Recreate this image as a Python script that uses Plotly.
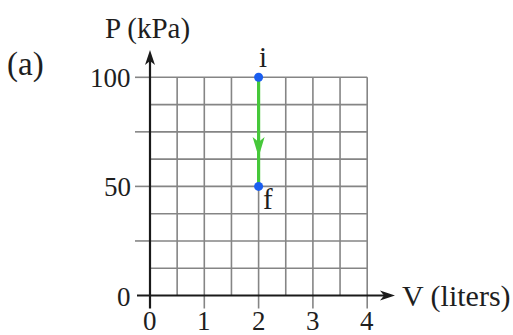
import plotly.graph_objects as go

# Tick positions and labels
V_ticks = [0, 1, 2, 3, 4]
V_tick_labels = ["0", "1", "2", "3", "4"]
P_ticks = [0, 25, 50, 75, 100]
P_tick_labels = ["0", "", "50", "", "100"]

# Grid lines (half-liter / 12.5 kPa squares)
V_grid = [0.5, 1.0, 1.5, 2.0, 2.5, 3.0, 3.5, 4.0]
P_grid = [12.5, 25.0, 37.5, 50.0, 62.5, 75.0, 87.5, 100.0]

# Isochoric process i -> f
V_states = [2, 2]
P_states = [100, 50]
state_names = ["i", "f"]

W, H = 513, 335
PX_PER_V = 54.3
PX_PER_P = 2.182
X0_PX = 150.0   # pixel column of V = 0
Y0_PX = 295.5   # pixel row of P = 0


def dv(px):
    return px / PX_PER_V


def dp(px):
    return px / PX_PER_P


FONT = "Liberation Serif, Times New Roman, serif"
TXT = "#1e1e1e"
GRID = "#858585"
AXIS = "#1a1a1a"
GREEN = "#46c83a"
BLUE = "#1a5ef0"

shapes = []

# grid
for v in V_grid:
    shapes.append(dict(type="line", xref="x", yref="y", x0=v, x1=v, y0=0, y1=P_grid[-1],
                       line=dict(color=GRID, width=1.6), layer="below"))
for p in P_grid:
    shapes.append(dict(type="line", xref="x", yref="y", x0=0, x1=V_grid[-1], y0=p, y1=p,
                       line=dict(color=GRID, width=1.6), layer="below"))

# tick marks
for p in P_ticks[1:]:
    shapes.append(dict(type="line", xref="x", yref="y", x0=-dv(15), x1=0, y0=p, y1=p,
                       line=dict(color=GRID, width=1.6), layer="below"))
for v in V_ticks[1:]:
    shapes.append(dict(type="line", xref="x", yref="y", x0=v, x1=v, y0=-dp(13), y1=0,
                       line=dict(color=GRID, width=1.6), layer="below"))

# axes with arrowheads
x_tip = dv(395 - X0_PX)
y_tip = dp(Y0_PX - 50)
head_len, head_hw, notch = 15, 5, 4
shapes.append(dict(type="line", xref="x", yref="y", x0=-dv(13), x1=x_tip - dv(head_len - notch),
                   y0=0, y1=0, line=dict(color=AXIS, width=2.2), layer="below"))
shapes.append(dict(type="line", xref="x", yref="y", x0=0, x1=0, y0=-dp(13),
                   y1=y_tip - dp(head_len - notch), line=dict(color=AXIS, width=2.2), layer="below"))
shapes.append(dict(
    type="path", xref="x", yref="y", layer="below",
    path=(f"M {x_tip},0 L {x_tip - dv(head_len)},{dp(head_hw)} "
          f"L {x_tip - dv(head_len - notch)},0 L {x_tip - dv(head_len)},{-dp(head_hw)} Z"),
    fillcolor=AXIS, line=dict(width=0)))
shapes.append(dict(
    type="path", xref="x", yref="y", layer="below",
    path=(f"M 0,{y_tip} L {-dv(head_hw)},{y_tip - dp(head_len)} "
          f"L 0,{y_tip - dp(head_len - notch)} L {dv(head_hw)},{y_tip - dp(head_len)} Z"),
    fillcolor=AXIS, line=dict(width=0)))

# direction arrow on the process line
arrow_frac = 0.73
tip_P = P_states[0] + arrow_frac * (P_states[1] - P_states[0])
pv = V_states[0]
a_len, a_hw, a_notch = 20, 6, 5
shapes.append(dict(
    type="path", xref="x", yref="y", layer="above",
    path=(f"M {pv},{tip_P} L {pv - dv(a_hw)},{tip_P + dp(a_len)} "
          f"L {pv},{tip_P + dp(a_len - a_notch)} L {pv + dv(a_hw)},{tip_P + dp(a_len)} Z"),
    fillcolor=GREEN, line=dict(width=0)))

fig = go.Figure()
fig.add_trace(go.Scatter(x=V_states, y=P_states, mode="lines",
                         line=dict(color=GREEN, width=3.2), hoverinfo="skip"))
fig.add_trace(go.Scatter(x=V_states, y=P_states, mode="markers",
                         marker=dict(color=BLUE, size=9), hoverinfo="skip"))

annotations = []
for v, t in zip(V_ticks, V_tick_labels):
    annotations.append(dict(x=v, y=0, xref="x", yref="y", text=t, showarrow=False,
                            xanchor="center", yanchor="middle", yshift=-25,
                            font=dict(family=FONT, size=27, color=TXT)))
for p, t in zip(P_ticks, P_tick_labels):
    if t:
        annotations.append(dict(x=0, y=p, xref="x", yref="y", text=t, showarrow=False,
                                xanchor="right", yanchor="middle", xshift=-17, yshift=-1,
                                font=dict(family=FONT, size=27, color=TXT)))

# state labels
label_shift = {"i": (4, 20), "f": (9, -13)}
for v, p, n in zip(V_states, P_states, state_names):
    sx, sy = label_shift[n]
    annotations.append(dict(x=v, y=p, xref="x", yref="y", text=n, showarrow=False,
                            xanchor="center", yanchor="middle", xshift=sx, yshift=sy,
                            font=dict(family=FONT, size=29, color=TXT)))

# axis titles and panel tag
annotations.append(dict(x=dv(147 - X0_PX), y=dp(Y0_PX - 28), xref="x", yref="y",
                        text="P (kPa)", showarrow=False, xanchor="center", yanchor="middle",
                        font=dict(family=FONT, size=29, color=TXT)))
annotations.append(dict(x=dv(400 - X0_PX), y=0, xref="x", yref="y",
                        text="V (liters)", showarrow=False, xanchor="left", yanchor="middle",
                        font=dict(family=FONT, size=30, color=TXT)))
annotations.append(dict(x=dv(25 - X0_PX), y=dp(Y0_PX - 64), xref="x", yref="y",
                        text="(a)", showarrow=False, xanchor="center", yanchor="middle",
                        font=dict(family=FONT, size=33, color=TXT)))

fig.update_layout(
    width=W, height=H,
    margin=dict(l=0, r=0, t=0, b=0),
    paper_bgcolor="white", plot_bgcolor="white",
    showlegend=False,
    xaxis=dict(range=[-X0_PX / PX_PER_V, (W - X0_PX) / PX_PER_V], visible=False, fixedrange=True),
    yaxis=dict(range=[-(H - Y0_PX) / PX_PER_P, Y0_PX / PX_PER_P], visible=False, fixedrange=True),
    shapes=shapes,
    annotations=annotations,
)

fig.write_html("out.html", config={"displayModeBar": False})
